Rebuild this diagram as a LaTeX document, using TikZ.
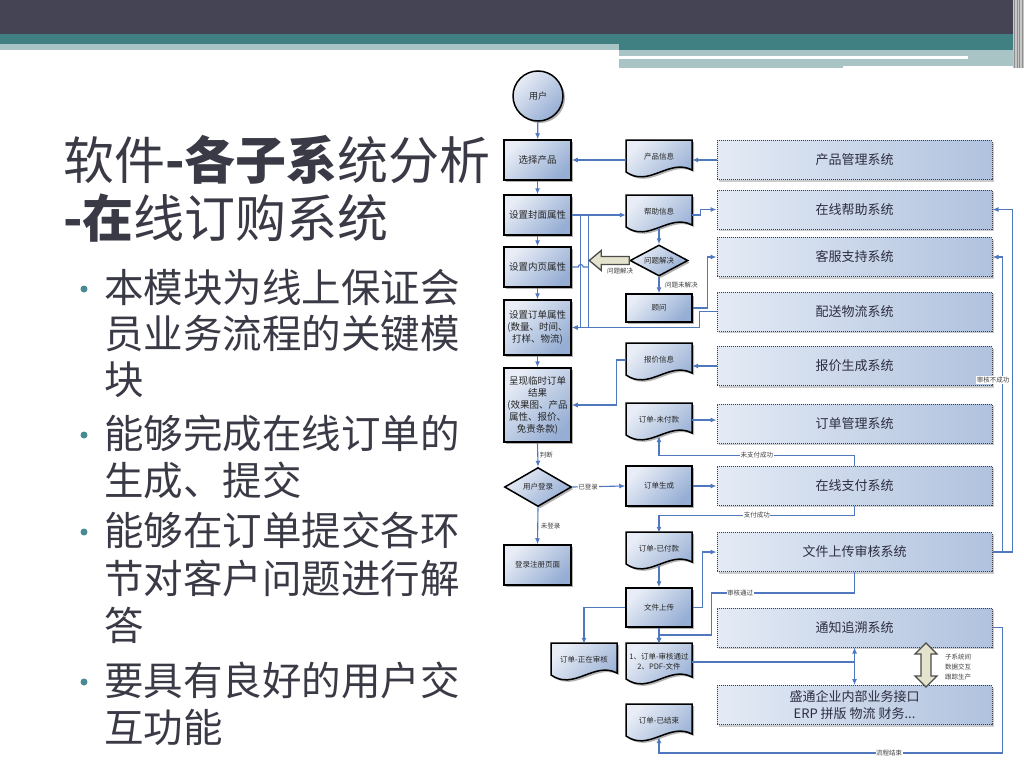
\documentclass[tikz,border=0pt]{standalone}
\usepackage{fontspec}
\setmainfont{Noto Sans CJK SC}
\usetikzlibrary{arrows.meta,shapes.geometric,shadows}
\definecolor{topdark}{RGB}{68,68,84}
\definecolor{bandteal}{RGB}{64,128,130}
\definecolor{bandlight}{RGB}{168,196,196}
\definecolor{titlec}{RGB}{58,58,70}
\definecolor{bulc}{RGB}{72,138,148}
\definecolor{linec}{RGB}{79,120,190}
\definecolor{boxL}{RGB}{232,237,246}
\definecolor{boxD}{RGB}{150,174,212}
\definecolor{sysL}{RGB}{228,235,245}
\definecolor{sysD}{RGB}{176,194,222}
\definecolor{sysB}{RGB}{60,60,80}
\definecolor{sysT}{RGB}{45,45,65}
\definecolor{hollowc}{RGB}{228,228,206}
\newcommand\docnode[5]{%
  \path[docshape, shift={(#2,#3)}] (-33,0) -- (33,0) -- (33,#4-2) .. controls (10,#4-14) and (-10,#4+16) .. (-33,#4) -- cycle;
  \node[doctext, minimum height=#4pt] (#1) at (#2,#3+#4/2+1) {#5};
}
\begin{document}
\begin{tikzpicture}[x=1pt,y=-1pt,
  shad/.style={drop shadow={shadow xshift=2pt,shadow yshift=-2pt,opacity=0.3,fill=black}},
  lbox/.style={draw=black, line width=1.5pt, top color=boxL, bottom color=boxD, shading angle=45, shad,
     minimum width=67pt, align=center, inner sep=1pt, text=black!85, font=\fontsize{9.5}{12}\selectfont},
  mbox/.style={lbox, minimum width=66pt, font=\fontsize{7.5}{10}\selectfont},
  ldia/.style={lbox, diamond, aspect=1.8, inner sep=0pt, font=\fontsize{7.5}{10}\selectfont},
  docshape/.style={draw=black, line width=1.5pt, top color=boxL, bottom color=boxD, shading angle=45, shad},
  doctext/.style={minimum width=66pt, inner sep=0pt, align=center, text=black!85, font=\fontsize{7.5}{10}\selectfont},
  sys/.style={draw=sysB, densely dotted, line width=1pt, left color=sysL, right color=sysD,
     drop shadow={shadow xshift=2pt,shadow yshift=-2pt,opacity=0.2,fill=black},
     minimum width=275pt, minimum height=39pt, align=center, text=sysT, font=\fontsize{13}{17}\selectfont},
  ln/.style={draw=linec, line width=1.1pt},
  arr/.style={ln, -{Latex[length=6pt,width=5pt]}},
  lbl/.style={font=\fontsize{6.5}{8}\selectfont, text=black!75, fill=white, inner sep=0.6pt},
  hollow/.style={draw=black!70, line width=1.3pt, fill=hollowc, line join=miter},
  titlet/.style={anchor=west, inner sep=0pt, text=titlec, font=\fontsize{51}{56}\selectfont},
  btxt/.style={anchor=west, inner sep=0pt, text=titlec, font=\fontsize{39.5}{44}\selectfont},
  bul/.style={circle, fill=bulc, inner sep=0pt, minimum size=7pt}
]
\useasboundingbox (0,0) rectangle (1024,768);
\fill[white] (0,0) rectangle (1024,768);
% header bands
\fill[topdark] (0,0) rectangle (1024,34);
\fill[bandteal] (0,34) rectangle (619,44);
\fill[bandlight] (0,44) rectangle (619,50);
\fill[bandteal] (619,34) rectangle (1013,50);
\fill[bandlight] (619,50) rectangle (1013,56);
\fill[bandlight] (619,58.5) rectangle (843,68);
\fill[bandlight] (843,58.5) rectangle (968,66);
\fill[bandlight] (968,56) rectangle (1013,66);
\fill[black!22] (1013,0) rectangle (1024,68);
\foreach \xx in {1014.5,1017,1019.5,1022.5}{\draw[black!45, line width=0.7pt] (\xx,0) -- (\xx,68);}
% title
\node[titlet] (t1) at (63,160) {软件{\bfseries -各子系}统分析};
\node[titlet] (t2) at (63,218) {{\bfseries -在}线订购系统};
% bullets
\node[bul] (d1) at (84,289) {};
\node[btxt] (b1) at (104,287) {本模块为线上保证会};
\node[btxt] (b2) at (104,334) {员业务流程的关键模};
\node[btxt] (b3) at (104,380) {块};
\node[bul] (d2) at (84,435) {};
\node[btxt] (b4) at (104,433) {能够完成在线订单的};
\node[btxt] (b5) at (104,480) {生成、提交};
\node[bul] (d3) at (84,532) {};
\node[btxt] (b6) at (104,530) {能够在订单提交各环};
\node[btxt] (b7) at (104,578) {节对客户问题进行解};
\node[btxt] (b8) at (104,625) {答};
\node[bul] (d4) at (84,682) {};
\node[btxt] (b9) at (104,680) {要具有良好的用户交};
\node[btxt] (b10) at (104,727) {互功能};
% left column
\node[lbox, circle, minimum size=50pt, font=\fontsize{9}{11}\selectfont] (yh) at (538,96) {用户};
\node[lbox, minimum height=40pt] (xz) at (537.5,160) {选择产品};
\node[lbox, minimum height=40pt] (fm) at (537.5,215) {设置封面属性};
\node[lbox, minimum height=40pt] (ny) at (537.5,267) {设置内页属性};
\node[lbox, minimum height=55pt] (dd) at (537.5,327.5) {设置订单属性\\(数量、时间、\\打样、物流)};
\node[lbox, minimum height=74pt] (cx) at (537.5,405) {呈现临时订单\\结果\\(效果图、产品\\属性、报价、\\免责条款)};
\node[ldia, minimum width=67pt, minimum height=39pt] (dl) at (538,487) {用户登录};
\node[lbox, minimum height=40pt, font=\fontsize{7.5}{10}\selectfont] (zc) at (537.5,565) {登录注册页面};
% middle column
\docnode{cpxx}{659}{140}{32}{产品信息}
\docnode{bzxx}{659}{195}{32}{帮助信息}
\node[ldia, minimum width=58pt, minimum height=31pt] (wtjj) at (659,260.5) {问题解决};
\node[mbox, minimum height=28pt] (gw) at (659,308) {顾问};
\docnode{bjxx}{659}{343}{32}{报价信息}
\docnode{wfk}{659}{403}{32}{订单-未付款}
\node[mbox, minimum height=40pt] (ddsc) at (659,486) {订单生成};
\docnode{yfk}{659}{532}{32}{订单-已付款}
\node[mbox, minimum height=39pt] (wjsc) at (659,607.5) {文件上传};
\docnode{zzsh}{584}{643}{32}{订单-正在审核}
\docnode{shtg}{659}{643}{36}{1、订单-审核通过\\2、PDF-文件}
\docnode{yjs}{659}{704}{32}{订单-已结束}
% systems
\node[sys] (cpgl) at (854.5,160) {产品管理系统};
\node[sys] (zxbz) at (854.5,209.5) {在线帮助系统};
\node[sys] (kfzc) at (854.5,257) {客服支持系统};
\node[sys] (pswl) at (854.5,311.5) {配送物流系统};
\node[sys] (bjsc) at (854.5,366) {报价生成系统};
\node[sys] (ddgl) at (854.5,423.5) {订单管理系统};
\node[sys] (zxzf) at (854.5,485.5) {在线支付系统};
\node[sys] (wjsh) at (854.5,552) {文件上传审核系统};
\node[sys] (tzzs) at (854.5,627.5) {通知追溯系统};
\node[sys] (stqy) at (854.5,705) {盛通企业内部业务接口\\ERP 拼版 物流 财务...};
% left column flow
\draw[arr] (yh) -- (xz);
\draw[arr] (xz) -- (fm);
\draw[arr] (fm) -- (ny);
\draw[arr] (ny) -- (dd);
\draw[arr] (dd) -- (cx);
\draw[arr] (cx.south) -- node[lbl, right=1pt] (l1) {判断} (dl.north);
\draw[arr] (dl.south) -- node[lbl, right=2pt] (l2) {未登录} (zc.north);
% product / help
\draw[arr] (cpgl.west) -- (cpgl.west -| cpxx.east);
\draw[arr] (cpxx.west |- xz.east) -- (xz.east);
\draw[arr] (fm.east) -- (fm.east -| bzxx.west);
\draw[ln] ([xshift=9pt]fm.east) -- ([xshift=9pt]fm.east |- dd.east);
\draw[ln] ([xshift=17pt]fm.east) -- ([xshift=17pt]fm.east |- dd.east);
\draw[ln] (ny.east) -- ++(6.5,0) arc[start angle=180, end angle=360, radius=2.5] -- ++(5.5,0);
\draw[arr] (pswl.west) -- ++(-17,0) |- (dd.east);
\draw[arr] (bzxx.east |- fm.east) -- ++(8,0) |- (zxbz.west);
\draw[arr] (bzxx.south) -- (wtjj.north);
\draw[arr] (wtjj.south) -- node[lbl, right=5pt] (l3) {问题未解决} (gw.north);
\draw[hollow] (wtjj.west) ++(0,-4) -- ++(-28,0) -- ++(0,-6) -- ++(-12,10) -- ++(12,10) -- ++(0,-6) -- ++(28,0) -- cycle;
\node[lbl, fill=none] (l4) at (620,271) {问题解决};
\draw[arr] (gw.east) -- ++(15,0) |- (kfzc.west);
% price
\draw[arr] (bjsc.west) -- (bjsc.west -| bjxx.east);
\draw[arr] (bjxx.west) -- ++(-9,0) |- (cx.east);
% orders
\draw[arr] (wfk.east) -- (wfk.east -| ddgl.west);
\draw[arr] (zxzf.north) -- ++(0,-10) coordinate (c1) -- node[lbl] (l5) {未支付成功} (c1 -| wfk.south) -- (wfk.south);
\draw[arr] (dl.east) -- node[lbl, pos=0.3] (l6) {已登录} (ddsc.west);
\draw[arr] (ddsc.east) -- (ddsc.east -| zxzf.west);
\draw[arr] (zxzf.south) -- ++(0,10) coordinate (c2) -- node[lbl] (l7) {支付成功} (c2 -| yfk.north) -- (yfk.north);
\draw[arr] (yfk.south) -- (wjsc.north);
\draw[arr] (wjsc.east) -- ++(10,0) |- (wjsh.west);
\draw[arr] (wjsc.west) -| (zzsh.north);
\draw[arr] (wjsc.south) -- (shtg.north);
\draw[arr] (wjsh.south) -- ++(0,21) -- node[lbl, pos=0.8] (l8) {审核通过} ++(-143,0) -- ++(0,42) -| (shtg.north);
\draw[ln] (shtg.east) -- (shtg.east -| tzzs.south) coordinate (c3);
\draw[arr] (c3) -- (tzzs.south);
\draw[arr] (c3) -- (stqy.north);
\draw[hollow] (926,643) -- (937,654) -- (931,654) -- (931,676) -- (937,676) -- (926,687) -- (915,676) -- (921,676) -- (921,654) -- (915,654) -- cycle;
\node[lbl, fill=none, align=left, font=\fontsize{6.5}{10}\selectfont] (l9) at (958,667) {子系统间\\数据交互\\跟踪生产};
\draw[arr] (tzzs.east) -- ++(10,0) -- ++(0,125.5) coordinate (c4) -- node[lbl, pos=0.33] (l10) {流程结束} (c4 -| yjs.south) -- (yjs.south);
\draw[arr] (wjsh.east) -- ++(20,0) |- (zxbz.east);
\draw[arr] (wjsh.east) -- ++(10,0) |- (kfzc.east);
\node[lbl] (l11) at (993,380) {审核不成功};
\end{tikzpicture}
\end{document}
